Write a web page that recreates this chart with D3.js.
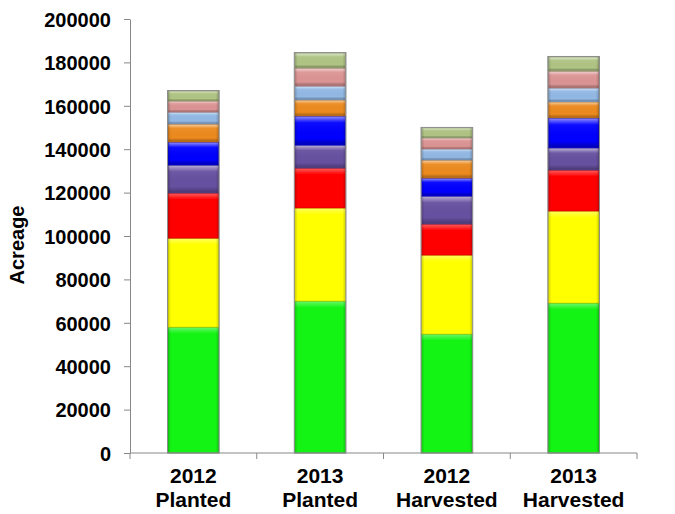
<!DOCTYPE html>
<html lang="en">
<head>
  <meta charset="UTF-8" />
  <title>Acreage</title>
  <style>
    body { margin: 0; background: #fff; }
    svg { display: block; font-family: "Liberation Sans", Arial, sans-serif; }
  </style>
</head>
<body>
  <svg id="chart" width="675" height="514"></svg>
  <script src="https://d3js.org/d3.v7.min.js"></script>
  <script>
    // categories (two-line labels)
    const categories = ["2012 Planted", "2013 Planted", "2012 Harvested", "2013 Harvested"];
    // series, bottom to top
    const seriesNames = ["s1", "s2", "s3", "s4", "s5", "s6", "s7", "s8", "s9"];
    const seriesColors = ["#14f414", "#ffff00", "#ff0000", "#6650a0", "#0000ff", "#ec8a1e", "#92b8e4", "#dc9494", "#b0c484"];
    const s1 = [58000, 70000, 54800, 69100];
    const s2 = [41000, 42900, 36400, 42400];
    const s3 = [20800, 18400, 14300, 18900];
    const s4 = [12900, 10600, 12900, 10200];
    const s5 = [10600, 13400, 8300, 13800];
    const s6 = [8300, 7400, 8300, 7400];
    const s7 = [5500, 6400, 5100, 6400];
    const s8 = [5100, 8300, 5100, 7800];
    const s9 = [4600, 6900, 4600, 6500];
    const yTicks = [0, 20000, 40000, 60000, 80000, 100000, 120000, 140000, 160000, 180000, 200000];

    const seriesValues = [s1, s2, s3, s4, s5, s6, s7, s8, s9];
    const table = categories.map((c, i) => {
      const row = { cat: c };
      seriesNames.forEach((s, j) => row[s] = seriesValues[j][i]);
      return row;
    });

    const margin = { top: 19, right: 38, bottom: 61, left: 130 };
    const width = 675 - margin.left - margin.right;
    const height = 514 - margin.top - margin.bottom;

    const svg = d3.select("#chart");
    const defs = svg.append("defs");

    // bevel look: light band at top, dark edge at bottom
    const bevel = defs.append("linearGradient").attr("id", "bevel")
      .attr("x1", 0).attr("y1", 0).attr("x2", 0).attr("y2", 1);
    bevel.append("stop").attr("offset", "0%").attr("stop-color", "#fff").attr("stop-opacity", 0.55);
    bevel.append("stop").attr("offset", "22%").attr("stop-color", "#fff").attr("stop-opacity", 0.05);
    bevel.append("stop").attr("offset", "78%").attr("stop-color", "#000").attr("stop-opacity", 0.0);
    bevel.append("stop").attr("offset", "100%").attr("stop-color", "#000").attr("stop-opacity", 0.3);

    // big segments only get a thin highlight at the top
    const shine = defs.append("linearGradient").attr("id", "shine")
      .attr("x1", 0).attr("y1", 0).attr("x2", 0).attr("y2", 1);
    shine.append("stop").attr("offset", "0%").attr("stop-color", "#fff").attr("stop-opacity", 0.35);
    shine.append("stop").attr("offset", "100%").attr("stop-color", "#fff").attr("stop-opacity", 0);

    const side = defs.append("linearGradient").attr("id", "side")
      .attr("x1", 0).attr("y1", 0).attr("x2", 1).attr("y2", 0);
    side.append("stop").attr("offset", "0%").attr("stop-color", "#000").attr("stop-opacity", 0.18);
    side.append("stop").attr("offset", "6%").attr("stop-color", "#000").attr("stop-opacity", 0);
    side.append("stop").attr("offset", "94%").attr("stop-color", "#000").attr("stop-opacity", 0);
    side.append("stop").attr("offset", "100%").attr("stop-color", "#000").attr("stop-opacity", 0.18);

    const g = svg.append("g").attr("transform", `translate(${margin.left},${margin.top})`);

    const x = d3.scaleBand().domain(categories).range([0, width]).paddingInner(0.6).paddingOuter(0.3);
    const y = d3.scaleLinear().domain([0, 200000]).range([height, 0]);

    const stack = d3.stack().keys(seriesNames)(table);

    const layers = g.selectAll("g.layer").data(stack).join("g")
      .attr("class", "layer");

    layers.each(function (layer, li) {
      const sel = d3.select(this);
      const big = li < 3;
      const segs = sel.selectAll("g.seg").data(layer).join("g").attr("class", "seg");
      segs.append("rect")
        .attr("x", d => x(d.data.cat))
        .attr("y", d => y(d[1]))
        .attr("width", x.bandwidth())
        .attr("height", d => y(d[0]) - y(d[1]))
        .attr("fill", seriesColors[li])
        .attr("stroke", d3.color(seriesColors[li]).darker(0.8))
        .attr("stroke-width", 0.6);
      segs.append("rect")
        .attr("x", d => x(d.data.cat) + 0.5)
        .attr("y", d => y(d[1]) + 0.5)
        .attr("width", x.bandwidth() - 1)
        .attr("height", d => big ? 6 : y(d[0]) - y(d[1]) - 1)
        .attr("fill", big ? "url(#shine)" : "url(#bevel)");
      segs.append("rect")
        .attr("x", d => x(d.data.cat))
        .attr("y", d => y(d[1]))
        .attr("width", x.bandwidth())
        .attr("height", d => y(d[0]) - y(d[1]))
        .attr("fill", "url(#side)");
    });

    // outline around each bar
    g.selectAll("rect.outline").data(table).join("rect")
      .attr("class", "outline")
      .attr("x", d => x(d.cat) - 0.5)
      .attr("y", d => y(d3.sum(seriesNames, s => d[s])) - 0.5)
      .attr("width", x.bandwidth() + 1)
      .attr("height", d => height - y(d3.sum(seriesNames, s => d[s])) + 0.5)
      .attr("fill", "none")
      .attr("stroke", "#8c8c8c")
      .attr("stroke-width", 1);

    // y axis
    const yAxis = g.append("g")
      .call(d3.axisLeft(y).tickValues(yTicks).tickFormat(d3.format("d")).tickSize(6).tickSizeOuter(0));
    yAxis.select(".domain").attr("stroke", "#888");
    yAxis.selectAll(".tick line").attr("stroke", "#888");
    yAxis.selectAll(".tick text")
      .attr("x", -19)
      .attr("dy", "0.36em")
      .attr("fill", "#000")
      .style("font-size", "20px")
      .style("font-weight", "bold")
      .style("font-family", "'Liberation Sans', Arial, sans-serif");

    // x axis with boundary ticks between categories
    const xg = g.append("g").attr("transform", `translate(0,${height})`);
    xg.append("line").attr("x1", 0).attr("x2", width).attr("y1", 0).attr("y2", 0).attr("stroke", "#888");
    const step = width / categories.length;
    xg.selectAll("line.sep").data(d3.range(categories.length + 1)).join("line")
      .attr("class", "sep")
      .attr("x1", i => i * step).attr("x2", i => i * step)
      .attr("y1", 0).attr("y2", 6)
      .attr("stroke", "#888");

    const labels = xg.selectAll("text.cat").data(categories).join("text")
      .attr("class", "cat")
      .attr("x", d => x(d) + x.bandwidth() / 2)
      .attr("y", 30)
      .attr("text-anchor", "middle")
      .style("font-size", "21px")
      .style("font-weight", "bold");
    labels.each(function (d) {
      const parts = d.split(" ");
      const t = d3.select(this);
      parts.forEach((p, i) => {
        t.append("tspan").attr("x", x(d) + x.bandwidth() / 2).attr("dy", i === 0 ? 0 : 24).text(p);
      });
    });

    // y axis title
    svg.append("text")
      .attr("transform", `translate(24,${margin.top + height / 2 + 9}) rotate(-90)`)
      .attr("text-anchor", "middle")
      .style("font-size", "20px")
      .style("font-weight", "bold")
      .text("Acreage");
  </script>
</body>
</html>
